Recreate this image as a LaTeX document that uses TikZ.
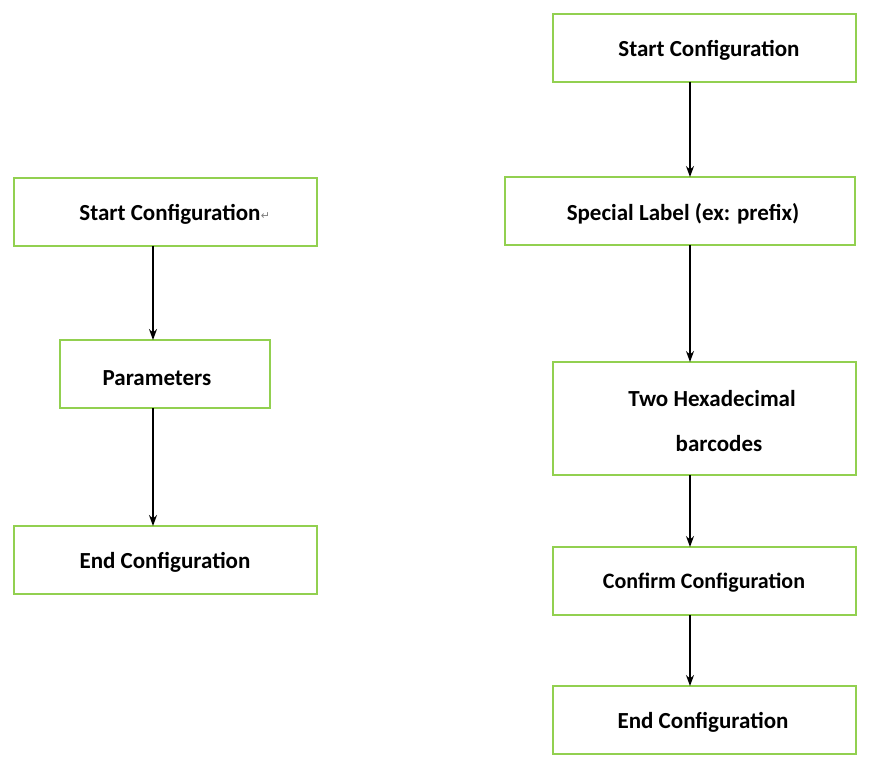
\documentclass[tikz,border=0pt]{standalone}
\usepackage{fontspec}
\setmainfont{Carlito}
\newfontfamily\dejavu{DejaVu Sans}
\usetikzlibrary{arrows.meta}
\definecolor{boxgreen}{RGB}{146,208,80}
\begin{document}
\begin{tikzpicture}[x=1pt,y=-1pt,
  box/.style={draw=boxgreen,line width=2.5pt,inner sep=0pt},
  lbl/.style={font=\fontsize{23}{27}\selectfont\bfseries,inner sep=0pt},
  arr/.style={-{Stealth[length=11pt,width=8pt]},line width=1.3pt}]
\useasboundingbox (0,0) rectangle (884,762);
% left
\node[box,minimum width=303pt,minimum height=68pt] (l1) at (165.5,212) {};
\node[box,minimum width=210pt,minimum height=68pt] (l2) at (165,374) {};
\node[box,minimum width=303pt,minimum height=68pt] (l3) at (165.5,560) {};
\node[lbl] (t1) at (170,214) {Start Configuration};
\node[inner sep=0pt,text=gray,font=\dejavu\fontsize{11}{12}\selectfont] (rt) at (t1.east) [anchor=west,yshift=-2pt] {↵};
\node[lbl] (t2) at (157,378) {Parameters};
\node[lbl] (t3) at (165,562) {End Configuration};
\draw[arr] (153,246) -- (153,340);
\draw[arr] (153,408) -- (153,526);
% right
\node[box,minimum width=303pt,minimum height=68pt] (r1) at (704.5,48) {};
\node[box,minimum width=350pt,minimum height=68pt] (r2) at (680,211) {};
\node[box,minimum width=303pt,minimum height=113pt] (r3) at (704.5,418.5) {};
\node[box,minimum width=303pt,minimum height=68pt] (r4) at (704.5,581) {};
\node[box,minimum width=303pt,minimum height=68pt] (r5) at (704.5,720) {};
\node[lbl] (s1) at (709,50) {Start Configuration};
\node[lbl] (s2) at (683,214) {Special Label (ex: prefix)};
\node[lbl] (s3a) at (712,399) {Two Hexadecimal};
\node[lbl] (s3b) at (719,444) {barcodes};
\node[lbl,font=\fontsize{22}{26}\selectfont\bfseries] (s4) at (704,583) {Confirm Configuration};
\node[lbl] (s5) at (703,722) {End Configuration};
\draw[arr] (690,82) -- (690,177);
\draw[arr] (690,245) -- (690,362);
\draw[arr] (690,475) -- (690,547);
\draw[arr] (690,615) -- (690,686);
\end{tikzpicture}
\end{document}
